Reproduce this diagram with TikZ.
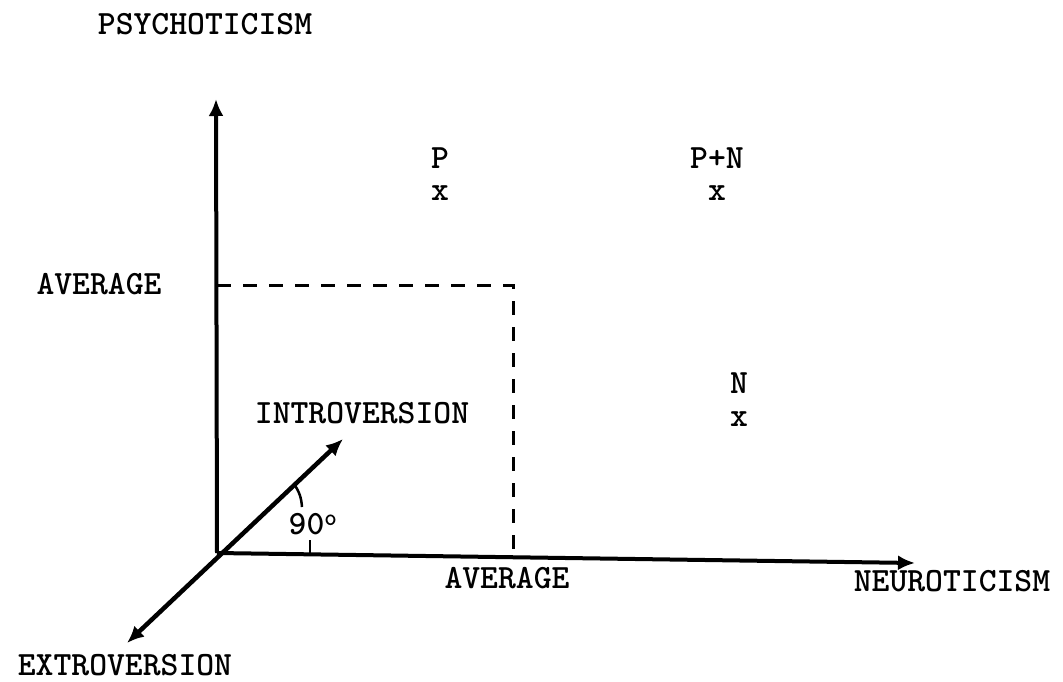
\documentclass[tikz,border=0pt]{standalone}
\usepackage{fontspec}
\usetikzlibrary{arrows.meta}
\begin{document}
\begin{tikzpicture}[x=1pt,y=-1pt,
  lbl/.style={font=\ttfamily\bfseries\fontsize{34}{40}\selectfont, inner sep=0pt},
  axis/.style={line width=4pt, -{Latex[length=17pt,width=15pt]}},
  dax/.style={line width=4.5pt, {Latex[length=17pt,width=15pt]}-{Latex[length=17pt,width=15pt]}},
  guide/.style={line width=3pt, dash pattern=on 14pt off 12pt},
  thin/.style={line width=2.5pt}]
\useasboundingbox (0,0) rectangle (1063,681);
% key points
\coordinate (O) at (217,553);
\coordinate (top) at (216,99);
\coordinate (right) at (915,563);
\coordinate (intro) at (343,439);
\coordinate (extro) at (127,643);
\coordinate (dl) at (217,285);
\coordinate (dc) at (513,285);
\coordinate (db) at (513,556);
% axes
\draw[axis] (O) -- (top);
\draw[axis] (O) -- (right);
\draw[dax] (extro) -- (intro);
% dashed averages
\draw[guide] (dl) -- (dc) -- (db);
% 90 degree marks
\coordinate (a1) at (294,484);
\coordinate (a2) at (302,507);
\draw[thin] (a1) to[bend left=15] (a2);
\coordinate (t1) at (310,540);
\coordinate (t2) at (310,555);
\draw[thin] (t1) -- (t2);
% labels
\node[lbl] (psy) at (205,24) {PSYCHOTICISM};
\node[lbl] (avgl) at (99,284) {AVERAGE};
\node[lbl] (intl) at (362,413) {INTROVERSION};
\node[lbl] (deg) at (313,524) {90\textsuperscript{o}};
\node[lbl] (avgb) at (507,578) {AVERAGE};
\node[lbl] (neu) at (952,581) {NEUROTICISM};
\node[lbl] (ext) at (125,665) {EXTROVERSION};
\node[lbl] (P) at (440,158) {P};
\node[lbl] (Px) at (440,193) {x};
\node[lbl] (PN) at (717,158) {P+N};
\node[lbl] (PNx) at (717,193) {x};
\node[lbl] (N) at (739,383) {N};
\node[lbl] (Nx) at (739,419) {x};
\end{tikzpicture}
\end{document}
